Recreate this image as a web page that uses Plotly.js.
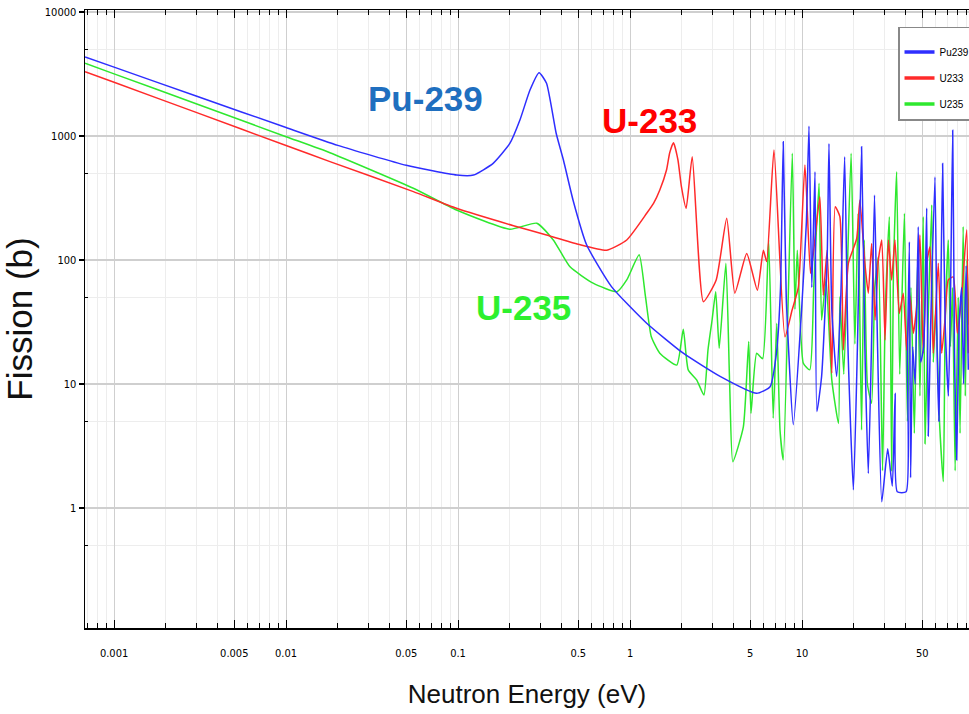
<!DOCTYPE html>
<html>
<head>
<meta charset="utf-8">
<script src="https://cdn.plot.ly/plotly-3.0.1.min.js"></script>
<style>html,body{margin:0;padding:0;background:#fff;overflow:hidden;}</style>
</head>
<body>
<div id="chart" style="width:969px;height:714px;"></div>
<script>
// Pu-239 fission cross-section (energy in eV, sigma in barns)
const puE = [0.000678,0.001,0.003,0.01,0.02,0.05,0.0983,0.123,0.16,0.2,0.229,0.262,0.296,0.327,0.372,0.41,0.466,0.56,0.78,1.25,2.04,3.34,5.45,6.52,7.1,7.5,7.78,8.1,8.9,9.95,10.6,10.98,11.4,11.9,12.2,13.0,14.0,14.35,14.9,15.9,16.8,17.7,18.5,19.9,21.0,22.2,23.2,24.3,25.5,26.4,27.5,29.1,31.5,33.5,34.8,35.8,40.3,41.0,42.1,42.8,44,45.5,47.4,49,51,53.1,54.2,56,59.3,61,62.5,64,65.7,68,71,73,75.2,77,79.3,82,84.8,87,90,92.7];
const puS = [4340,3590,2100,1170,840,580,484,484,602,870,1345,2350,3240,2660,1052,640,305,132,61,30.9,17.7,11.5,8.4,9.5,17.7,60,900,50,4.7,40,200,1200,60,515,6,11.5,100,870,40,11.5,50,680,20,1.4,20,820,20,1.9,30,334,20,1.12,3,1.5,8.4,1.35,1.35,15,140,1.75,20,10,185,15,20,262,3.8,30,467,20,5,40,600,30,8,50,1110,20,2.44,30,60,10,90,13];

// U-233
const u233E = [0.000678,0.001,0.003,0.01,0.018,0.055,0.098,0.21,0.327,0.5,0.733,0.957,1.25,1.37,1.49,1.63,1.70,1.79,1.9,1.99,2.12,2.3,2.67,3.17,3.65,4.07,4.77,5.5,5.96,6.23,6.87,7.96,8.76,9.52,10.4,11.2,11.7,12.7,13.3,14.0,14.9,15.6,16.6,17.4,18.6,20.8,21.7,23.2,24.3,25.4,26.6,27.8,29.1,30.4,31.8,33.2,34.7,36.8,38.8,40.6,42.5,44.4,46.4,48.5,50.7,53.1,55.5,58.0,62.0,64.9,67.8,70.9,75.8,80.0,84.8,90.7,92.7];
const u233S = [3300,2710,1550,838,621,356,261,189,159,134,120,145,238,286,367,532,730,883,640,390,261,681,46.1,69,217,54,113,57,120,97,771,24,39.5,60,584,78,120,324,52,120,12.2,269,224,18.8,94,149,305,94,54,136,32.8,100,145,22.6,145,69,145,37,54,18.8,51,25.7,42,159,17.7,94,128,17.7,94,17.7,32.8,69,73,25.7,51,175,17.7];

// U-235
const u235E = [0.000678,0.001,0.003,0.01,0.018,0.055,0.098,0.2,0.287,0.358,0.448,0.61,0.84,0.957,1.13,1.23,1.33,1.49,1.87,2.04,2.18,2.44,2.69,2.84,3.0,3.15,3.3,3.61,3.8,3.96,4.56,4.9,5.05,5.45,5.9,6.4,6.8,7.13,7.45,7.78,8.78,9.1,9.39,10.18,11.1,11.7,12.56,13.0,13.8,14.9,16.3,16.6,17.5,19.3,20.3,21.2,22.2,23.0,24.0,25.4,26.5,27.8,29.4,30.5,32.2,33.2,34,35.5,37,39.4,41,43,45,47,48.5,50.7,51.9,54,56.8,58,60,63,66.3,68,70.9,73,75,77.7,81,83,86.5,89,91,93.5];
const u235S = [3860,3170,1820,987,733,379,253,177,198,145,88,65,55.5,69,110,50.6,24,17.7,14.2,27.6,13,10.8,8.15,18.8,32.8,55.5,19.4,94,9.5,2.36,4.5,22,5.8,17.7,16,145,5.3,30.9,4.26,2.44,724,40,120,14.7,13,60,415,32.8,70,10.8,4.8,50.6,12,724,21,238,4.26,145,10,7,60,106,2.0,40,223,2.0,80,515,12,238,5,60,4,100,8,223,3.3,30,278,15,40,5,1.63,30,145,20,60,2.0,50,4,186,8,100,30];

// axis ticks
const xMajorVals = [0.001,0.005,0.01,0.05,0.1,0.5,1,5,10,50,100];
const xMajorText = ['0.001','0.005','0.01','0.05','0.1','0.5','1','5','10','50','100'];
const xMinorVals = [0.0007,0.0008,0.0009,0.002,0.003,0.004,0.006,0.007,0.008,0.009,0.02,0.03,0.04,0.06,0.07,0.08,0.09,0.2,0.3,0.4,0.6,0.7,0.8,0.9,2,3,4,6,7,8,9,20,30,40,60,70,80,90];
const yMajorVals = [1,10,100,1000,10000];
const yMajorText = ['1','10','100','1000','10000'];
const yMinorVals = [0.5,5,50,500,5000];

const seriesNames = ['Pu239','U233','U235'];
const seriesColors = ['#2e2eff','#ff2a2a','#2ee82e'];

const lineStyle = (c) => ({color:c, width:1.5, shape:'spline', smoothing:0.5});

const traces = [
  {x:u235E, y:u235S, mode:'lines', line:lineStyle(seriesColors[2]), name:seriesNames[2], showlegend:false, hoverinfo:'skip'},
  {x:u233E, y:u233S, mode:'lines', line:lineStyle(seriesColors[1]), name:seriesNames[1], showlegend:false, hoverinfo:'skip'},
  {x:puE, y:puS, mode:'lines', line:lineStyle(seriesColors[0]), name:seriesNames[0], showlegend:false, hoverinfo:'skip'}
];
// legend keys (thicker line samples)
seriesNames.forEach((n,i)=>{
  traces.push({x:[null], y:[null], mode:'lines', line:{color:seriesColors[i], width:3.5}, name:n, legendgroup:'g'+i, showlegend:true});
});

const tickFont = {family:'"Liberation Sans Narrow", "DejaVu Sans Condensed", sans-serif', size:11, color:'#000'};

const layout = {
  width:969, height:714,
  margin:{l:85, r:0, t:10, b:86, autoexpand:false},
  paper_bgcolor:'#fff', plot_bgcolor:'#fff',
  showlegend:true,
  legend:{x:0.9197, y:0.9725, xanchor:'left', yanchor:'top', bgcolor:'#fff', bordercolor:'#888', borderwidth:1.5,
          font:{family:'"Liberation Sans Narrow", sans-serif', size:10, color:'#000'},
          title:{text:' ', font:{size:7}},
          traceorder:'grouped', tracegroupgap:7},
  xaxis:{type:'log', range:[-3.169, 1.971], tickmode:'array', tickvals:xMajorVals, ticktext:xMajorText,
         ticks:'inside', ticklen:8, tickcolor:'#000', tickwidth:1,
         showline:true, linecolor:'#000', linewidth:1.5, mirror:'allticks',
         showgrid:true, gridcolor:'#cfcfcf', gridwidth:1,
         tickfont:tickFont, ticklabelstandoff:14,
         minor:{tickmode:'array', tickvals:xMinorVals, ticks:'inside', ticklen:5, tickcolor:'#000', showgrid:true, gridcolor:'#ededed', gridwidth:1},
         title:{text:'Neutron Energy (eV)', font:{family:'"Liberation Sans", Arial, sans-serif', size:26, color:'#111'}, standoff:26}},
  yaxis:{type:'log', range:[-0.968, 4.016], tickmode:'array', tickvals:yMajorVals, ticktext:yMajorText,
         ticks:'outside', ticklen:5, tickcolor:'#000', tickwidth:1.5,
         showline:true, linecolor:'#000', linewidth:1.5, mirror:false, automargin:true,
         showgrid:true, gridcolor:'#cfcfcf', gridwidth:1.5,
         tickfont:tickFont,
         minor:{tickmode:'array', tickvals:yMinorVals, ticks:'inside', ticklen:3, tickcolor:'#000', showgrid:true, gridcolor:'#ededed', gridwidth:1.5},
         title:{text:'Fission (b)', font:{family:'"Liberation Sans", Arial, sans-serif', size:35, color:'#111'}, standoff:4}},
  annotations:[
    {xref:'paper', yref:'paper', x:0.3857, y:0.856, xanchor:'center', yanchor:'middle', text:'<b>Pu-239</b>', showarrow:false, font:{family:'"Liberation Sans", Arial, sans-serif', size:35, color:'#1f6fbf'}},
    {xref:'paper', yref:'paper', x:0.639, y:0.822, xanchor:'center', yanchor:'middle', text:'<b>U-233</b>', showarrow:false, font:{family:'"Liberation Sans", Arial, sans-serif', size:35, color:'#ff0000'}},
    {xref:'paper', yref:'paper', x:0.4955, y:0.519, xanchor:'center', yanchor:'middle', text:'<b>U-235</b>', showarrow:false, font:{family:'"Liberation Sans", Arial, sans-serif', size:35, color:'#2ef02e'}}
  ]
};

Plotly.newPlot('chart', traces, layout, {staticPlot:true, displayModeBar:false});
</script>
</body>
</html>
